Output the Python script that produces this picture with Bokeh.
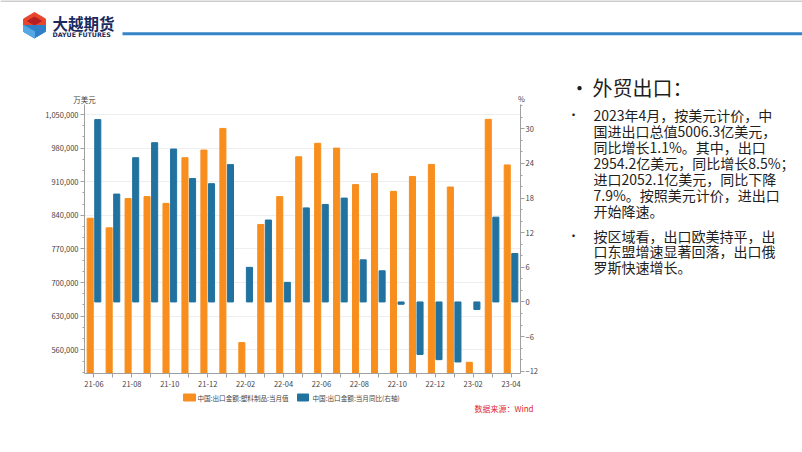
from bokeh.plotting import figure
from bokeh.models import (Range1d, LinearAxis, FixedTicker, NumeralTickFormatter, ColumnDataSource)
from bokeh.transform import dodge
from bokeh.layouts import column, row
from bokeh.embed import file_html
from bokeh.resources import INLINE
from bokeh.core.properties import value

# ---------------- data ----------------
months = ["21-06", "21-07", "21-08", "21-09", "21-10", "21-11", "21-12",
          "22-01", "22-02", "22-03", "22-04", "22-05", "22-06", "22-07",
          "22-08", "22-09", "22-10", "22-11", "22-12", "23-01", "23-02",
          "23-03", "23-04"]
# 中国:出口金额:塑料制品:当月值 (万美元)
plastics_export = [834000, 814000, 875000, 879000, 865000, 960000, 976000,
                   1021000, 575000, 821000, 879000, 962000, 990000, 980000,
                   904000, 927000, 890000, 921000, 946000, 899000, 534000,
                   1040000, 945000]
# 中国:出口金额:当月同比 (%)
export_yoy = [31.6, 18.7, 25.0, 27.6, 26.5, 21.4, 20.5, 23.8, 6.0, 14.2, 3.4,
              16.3, 16.9, 18.0, 7.3, 5.4, -0.4, -9.1, -10.0, -10.4, -1.3,
              14.7, 8.4]
left_ticks = [560000, 630000, 700000, 770000, 840000, 910000, 980000, 1050000]
right_ticks = [-12, -6, 0, 6, 12, 18, 24, 30]
series_names = ["中国:出口金额:塑料制品:当月值", "中国:出口金额:当月同比(右轴)"]
left_unit = "万美元"
right_unit = "%"
source_note = "数据来源：Wind"
title_text = "外贸出口："
bullet1_lines = ["2023年4月，按美元计价，中",
                 "国进出口总值5006.3亿美元，",
                 "同比增长1.1%。其中，出口",
                 "2954.2亿美元，同比增长8.5%；",
                 "进口2052.1亿美元，同比下降",
                 "7.9%。按照美元计价，进出口",
                 "开始降速。"]
bullet2_lines = ["按区域看，出口欧美持平，出",
                 "口东盟增速显著回落，出口俄",
                 "罗斯快速增长。"]

FONT = "Noto Sans CJK SC"
ORANGE = "#F78E1E"
BLUE = "#21729F"
AX = "#a0a0a0"
LBL = "#444444"
TXT = "#1e1e1e"


def blank(fig):
    fig.grid.visible = False
    fig.outline_line_color = None
    return fig


HDR_H = 104          # header height = top of chart frame row
FRAME_BOTTOM = 373   # bottom of the chart frame
ROW_H = 288

# ---------------- header (slide top, axis units, slide title) ----------------
hdr = blank(figure(width=802, height=HDR_H, x_range=Range1d(0, 802), y_range=Range1d(HDR_H, 0),
                   output_backend="svg", toolbar_location=None, min_border=0,
                   x_axis_location=None, y_axis_location=None))
hdr.segment(x0=[0], y0=[0.5], x1=[802], y1=[0.5], line_color="#9a9a9a", line_width=1)
hdr.patch([34, 45, 45, 23, 23], [12, 18.5, 25, 25, 18.5], color="#E8452C")
hdr.patch([27, 34, 41, 34], [20.5, 16.5, 20.5, 24.5], color="#B51F24")
hdr.patch([23, 45, 45, 34, 23], [25, 25, 31, 37.5, 31], color="#2F7FC8")
hdr.patch([23, 34, 34, 23], [25, 31, 37.5, 31], color="#56A8E4")
hdr.text(x=[52], y=[22], text=["大越期货"], text_font=value(FONT), text_font_style="bold",
         text_font_size="15.5px", text_color="#1B2A5E", text_baseline="middle")
hdr.text(x=[52], y=[34], text=["DAYUE FUTURES"], text_font=value("DejaVu Sans"),
         text_font_style="bold", text_font_size="6.3px", text_color="#1B2A5E",
         text_baseline="middle")
hdr.segment(x0=[122], y0=[33.3], x1=[802], y1=[33.3], line_color="#3584C8", line_width=3)
hdr.text(x=[84], y=[98.5], text=[left_unit], text_font=value(FONT), text_font_size="7.5px",
         text_color=LBL, text_align="center", text_baseline="middle")
hdr.text(x=[521], y=[98], text=[right_unit], text_font=value(FONT), text_font_size="7.5px",
         text_color=LBL, text_align="center", text_baseline="middle")
hdr.text(x=[569], y=[87], text=["•"], text_font=value(FONT), text_font_size="20px",
         text_color=TXT, text_baseline="middle")
hdr.text(x=[592], y=[87], text=[title_text], text_font=value(FONT), text_font_size="20px",
         text_color=TXT, text_baseline="middle")

# ---------------- chart ----------------
chart = figure(width=548, height=ROW_H, output_backend="svg", toolbar_location=None,
               x_range=Range1d(-0.5, 22.5), y_range=Range1d(510650, 1070850),
               min_border_left=84, min_border_right=28, min_border_top=0,
               min_border_bottom=ROW_H - (FRAME_BOTTOM - HDR_H))
chart.extra_y_ranges = {"yoy": Range1d(-12.4, 34.22)}
chart.outline_line_color = None
chart.xgrid.visible = False
chart.ygrid.grid_line_color = "#eeeeee"

src = ColumnDataSource(dict(idx=list(range(len(months))), export=plastics_export, yoy=export_yoy))
chart.vbar(x=dodge("idx", -0.2), top="export", bottom=0, width=0.32, source=src, color=ORANGE)
chart.vbar(x=dodge("idx", 0.2), top="yoy", bottom=0, width=0.32, source=src, color=BLUE,
           y_range_name="yoy")

left_minor = [t + k * 70000 / 3 for t in [490000] + left_ticks for k in (1, 2)]
chart.yaxis.ticker = FixedTicker(ticks=left_ticks, minor_ticks=left_minor)
chart.yaxis.formatter = NumeralTickFormatter(format="0,0")

raxis = LinearAxis(y_range_name="yoy")
right_minor = [t + k * 2 for t in [-18] + right_ticks for k in (1, 2)]
raxis.ticker = FixedTicker(ticks=right_ticks, minor_ticks=right_minor)
chart.add_layout(raxis, "right")

chart.xaxis.ticker = FixedTicker(ticks=list(range(len(months))))
chart.xaxis.major_label_overrides = {i: (m if i % 2 == 0 else "") for i, m in enumerate(months)}

for ax in [chart.yaxis[0], raxis, chart.xaxis[0]]:
    ax.axis_line_color = AX
    ax.major_tick_line_color = AX
    ax.minor_tick_line_color = AX
    ax.major_tick_out = 4
    ax.major_tick_in = 0
    ax.minor_tick_out = 2
    ax.minor_tick_in = 0
    ax.major_label_text_font = FONT
    ax.major_label_text_font_size = "7.5px"
    ax.major_label_text_color = LBL
    ax.major_label_standoff = 2
chart.xaxis.minor_tick_line_color = None
chart.xaxis.major_label_standoff = 3
raxis.major_label_standoff = 1

# ---------------- text panel ----------------
txt = blank(figure(width=254, height=ROW_H, x_range=Range1d(548, 802),
                   y_range=Range1d(FRAME_BOTTOM, HDR_H),
                   output_backend="svg", toolbar_location=None, min_border=0,
                   min_border_top=0, min_border_bottom=ROW_H - (FRAME_BOTTOM - HDR_H),
                   x_axis_location=None, y_axis_location=None))
txt.text(x=[567, 567], y=[114, 235], text=["•", "•"], text_font=value(FONT),
         text_font_size="12px", text_color=TXT, text_baseline="middle")
txt.text(x=[593] * len(bullet1_lines), y=[114 + 16 * i for i in range(len(bullet1_lines))],
         text=bullet1_lines, text_font=value(FONT), text_font_size="14px",
         text_color=TXT, text_baseline="middle")
txt.text(x=[593] * len(bullet2_lines), y=[235 + 15.7 * i for i in range(len(bullet2_lines))],
         text=bullet2_lines, text_font=value(FONT), text_font_size="14px",
         text_color=TXT, text_baseline="middle")

# ---------------- footer: legend and source note ----------------
FOOT_TOP = HDR_H + ROW_H
foot = blank(figure(width=802, height=452 - FOOT_TOP, x_range=Range1d(0, 802),
                    y_range=Range1d(452, FOOT_TOP), output_backend="svg",
                    toolbar_location=None, min_border=0,
                    x_axis_location=None, y_axis_location=None))
foot.rect(x=[189, 302.5], y=[397, 397], width=[12, 11], height=[7, 7],
          color=[ORANGE, BLUE])
foot.text(x=[197, 312], y=[397.5, 397.5], text=series_names, text_font=value(FONT),
          text_font_size="6.6px", text_color=LBL, text_baseline="middle")
foot.text(x=[533], y=[407.5], text=[source_note], text_font=value(FONT),
          text_font_size="8px", text_color="#E0282E", text_align="right",
          text_baseline="middle")

layout = column(hdr, row(chart, txt), foot)
open("out.html", "w").write(file_html(layout, INLINE))
